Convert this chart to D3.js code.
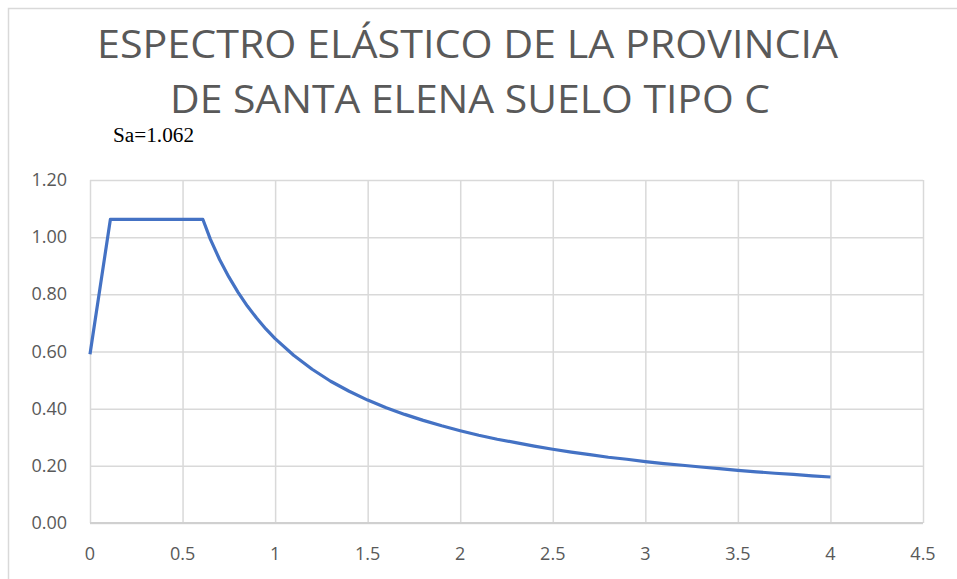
<!DOCTYPE html>
<html>
<head>
<meta charset="utf-8">
<script src="https://cdn.jsdelivr.net/npm/d3@7"></script>
<style>
  html, body { margin: 0; padding: 0; background: #fff; }
  svg { display: block; }
</style>
</head>
<body>
<svg id="chart" width="957" height="579"></svg>
<script>
// Period T (s) and spectral acceleration Sa (g)
const periods = [0, 0.11, 0.61, 0.65, 0.7, 0.75, 0.8, 0.85, 0.9, 0.95, 1.0, 1.1, 1.2, 1.3, 1.4, 1.5,
  1.6, 1.7, 1.8, 1.9, 2.0, 2.1, 2.2, 2.3, 2.4, 2.5, 2.6, 2.7, 2.8, 2.9, 3.0,
  3.1, 3.2, 3.3, 3.4, 3.5, 3.6, 3.7, 3.8, 3.9, 4.0];
const saValues = [0.590, 1.062, 1.062, 0.993, 0.922, 0.861, 0.807, 0.759, 0.717, 0.679, 0.645, 0.587, 0.538, 0.496, 0.461, 0.430,
  0.403, 0.380, 0.359, 0.340, 0.323, 0.307, 0.293, 0.281, 0.269, 0.258, 0.248, 0.239, 0.230, 0.223, 0.215,
  0.208, 0.202, 0.196, 0.190, 0.184, 0.179, 0.174, 0.170, 0.165, 0.161];
const xTicks = [0, 0.5, 1, 1.5, 2, 2.5, 3, 3.5, 4, 4.5];
const yTicks = [0, 0.2, 0.4, 0.6, 0.8, 1.0, 1.2];
const titleLines = ["ESPECTRO ELÁSTICO DE LA PROVINCIA", "DE SANTA ELENA SUELO TIPO C"];
const peakLabel = "Sa=1.062";

const svg = d3.select("#chart");
const gridColor = "#d9d9d9";
const textColor = "#595959";

// chart frame
svg.append("rect")
  .attr("x", 8.5).attr("y", 8.5)
  .attr("width", 1000).attr("height", 1000)
  .attr("fill", "none").attr("stroke", gridColor).attr("stroke-width", 1.5);

const x = d3.scaleLinear().domain([0, 4.5]).range([90, 923]);
const y = d3.scaleLinear().domain([0, 1.2]).range([523, 180]);

// gridlines
svg.append("g")
  .attr("transform", `translate(0,${y(0)})`)
  .call(d3.axisBottom(x).tickValues(xTicks).tickSize(-(y(0) - y(1.2))).tickFormat(""))
  .call(g => g.select(".domain").remove())
  .call(g => g.selectAll("line").attr("stroke", gridColor).attr("stroke-width", 1.5));

svg.append("g")
  .attr("transform", `translate(${x(0)},0)`)
  .call(d3.axisLeft(y).tickValues(yTicks).tickSize(-(x(4.5) - x(0))).tickFormat(""))
  .call(g => g.select(".domain").remove())
  .call(g => g.selectAll("line").attr("stroke", gridColor).attr("stroke-width", 1.5));

// bottom axis line
svg.append("line")
  .attr("x1", x(0)).attr("x2", x(4.5))
  .attr("y1", y(0)).attr("y2", y(0))
  .attr("stroke", "#d0d0d0").attr("stroke-width", 2);

// tick labels
svg.append("g")
  .selectAll("text")
  .data(xTicks)
  .join("text")
  .attr("x", d => x(d))
  .attr("y", 560)
  .attr("text-anchor", "middle")
  .attr("font-family", "'Open Sans', sans-serif")
  .attr("font-size", 18)
  .attr("fill", textColor)
  .text(d => d3.format("")(d));

svg.append("g")
  .selectAll("text")
  .data(yTicks)
  .join("text")
  .attr("x", 67)
  .attr("y", d => y(d) + 6)
  .attr("text-anchor", "end")
  .attr("font-family", "'Open Sans', sans-serif")
  .attr("font-size", 18)
  .attr("fill", textColor)
  .text(d => d3.format(".2f")(d));

// spectrum curve
const points = periods.map((t, i) => [t, saValues[i]]);
svg.append("path")
  .datum(points)
  .attr("fill", "none")
  .attr("stroke", "#4472c4")
  .attr("stroke-width", 3.2)
  .attr("stroke-linejoin", "round")
  .attr("d", d3.line().x(d => x(d[0])).y(d => y(d[1])));

// title
const titleSpans = [[97, 838, 58], [170, 770, 113]];
svg.append("g")
  .selectAll("text")
  .data(titleLines)
  .join("text")
  .attr("x", (d, i) => titleSpans[i][0])
  .attr("y", (d, i) => titleSpans[i][2])
  .attr("textLength", (d, i) => titleSpans[i][1] - titleSpans[i][0])
  .attr("lengthAdjust", "spacingAndGlyphs")
  .attr("font-family", "'Open Sans', sans-serif")
  .attr("font-size", 38)
  .attr("fill", textColor)
  .text(d => d);

// plateau annotation
svg.append("text")
  .attr("x", 113)
  .attr("y", 142)
  .attr("textLength", 81)
  .attr("lengthAdjust", "spacingAndGlyphs")
  .attr("font-family", "'Liberation Serif', 'Times New Roman', serif")
  .attr("font-size", 20)
  .attr("fill", "#000")
  .text(peakLabel);
</script>
</body>
</html>
